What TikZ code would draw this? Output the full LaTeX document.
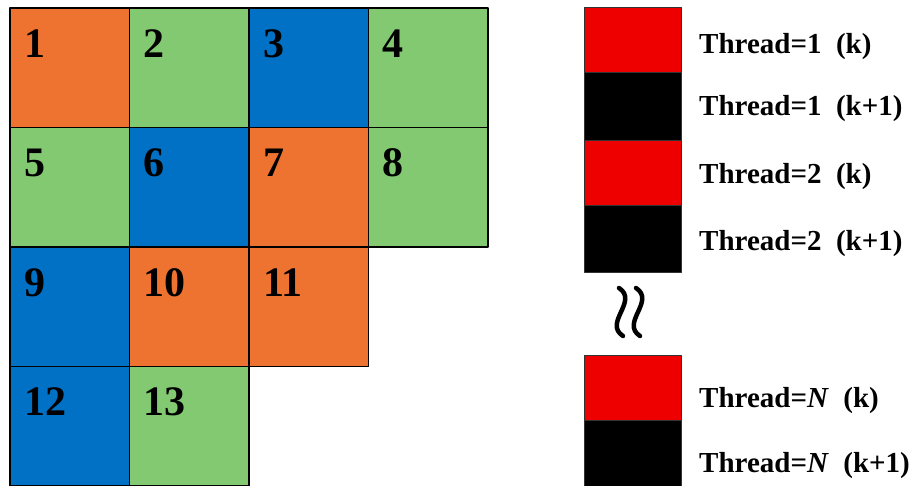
\documentclass[tikz,border=0pt]{standalone}
\usepackage{fontspec}
\setmainfont{Liberation Serif}

\begin{document}
\begin{tikzpicture}[x=1pt, y=-1pt, line join=round]
        \definecolor{cellorange}{RGB}{238,114,48}
        \definecolor{cellgreen}{RGB}{131,201,114}
        \definecolor{cellblue}{RGB}{0,113,197}
        \definecolor{threadred}{RGB}{238,0,0}
        \tikzset{
            cell/.style={draw=black, line width=1.5pt},
            stackpart/.style={draw=black!80, line width=1pt},
            wave/.style={line width=4.5pt, line cap=round},
            cellnum/.style={anchor=base west, inner sep=0pt, font=\fontsize{42}{42}\selectfont\bfseries},
            threadlabel/.style={anchor=base west, inner sep=0pt, font=\fontsize{29}{29}\selectfont\bfseries}
        }

        \useasboundingbox (0,0) rectangle (919,485);
        \clip (0,0) rectangle (919,485);

        % blocks: number/column/row/colour
        \foreach \n/\c/\r/\col in {1/0/0/cellorange, 2/1/0/cellgreen, 3/2/0/cellblue, 4/3/0/cellgreen,
                5/0/1/cellgreen, 6/1/1/cellblue, 7/2/1/cellorange, 8/3/1/cellgreen,
                9/0/2/cellblue, 10/1/2/cellorange, 11/2/2/cellorange,
                12/0/3/cellblue, 13/1/3/cellgreen} {
            \filldraw[cell, fill=\col] (10+119.5*\c, 8+119.5*\r) rectangle ++(119.5,119.5);
            \node[cellnum] (num\n) at (24+119.5*\c, 57+119.5*\r) {\n};
        }

        % thread stack
        \foreach \ya/\yb/\col in {7/72/threadred, 72/140/black, 140/205/threadred, 205/272/black,
                355/420/threadred, 420/490/black} {
            \filldraw[stackpart, fill=\col] (584,\ya) rectangle (681,\yb);
        }

        \draw[wave] (619,288) .. controls (639,301) and (603,323) .. (623,336);
        \draw[wave] (636,288) .. controls (656,301) and (620,323) .. (640,336);

        \node[threadlabel] (t1k) at (699,53) {Thread=1\ \ (k)};
        \node[threadlabel] (t1kk) at (699,115) {Thread=1\ \ (k+1)};
        \node[threadlabel] (t2k) at (699,183) {Thread=2\ \ (k)};
        \node[threadlabel] (t2kk) at (699,250) {Thread=2\ \ (k+1)};
        \node[threadlabel] (tNk) at (699,407) {Thread=\textit{N}\ \ (k)};
        \node[threadlabel] (tNkk) at (699,472) {Thread=\textit{N}\ \ (k+1)};
    \end{tikzpicture}
\end{document}
